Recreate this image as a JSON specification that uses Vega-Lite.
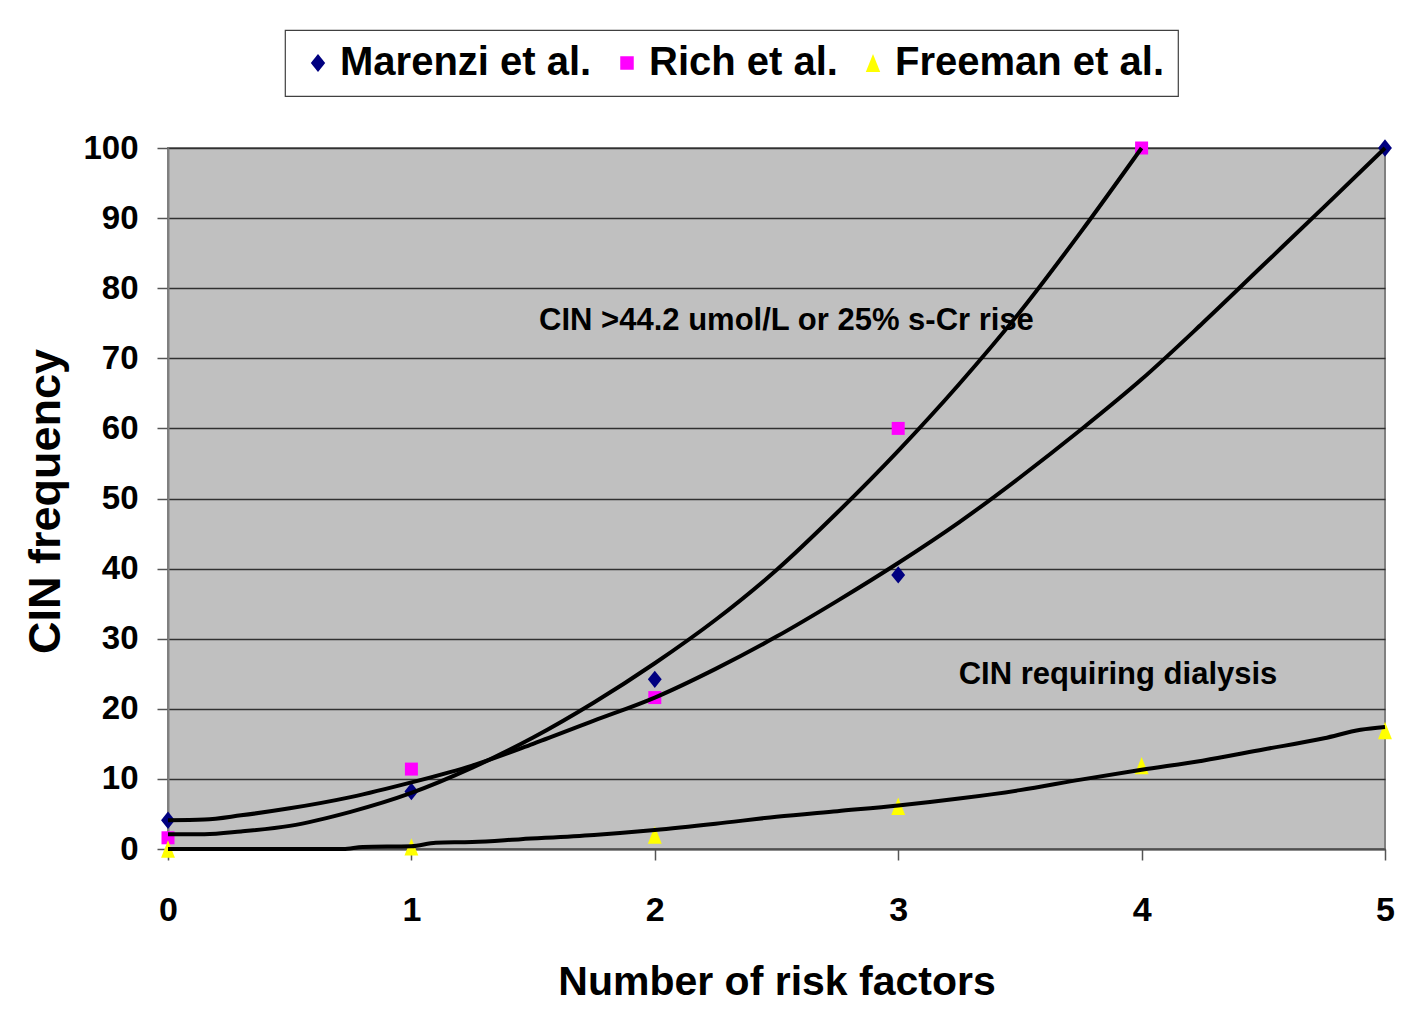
{
  "$schema": "https://vega.github.io/schema/vega-lite/v6.json",
  "width": 1217,
  "height": 701,
  "autosize": {"type": "none"},
  "padding": {"left": 168, "top": 148, "right": 24, "bottom": 168},
  "background": "white",
  "config": {
    "font": "Liberation Sans, Arial, sans-serif",
    "view": {"fill": "#C0C0C0", "stroke": "#808080", "strokeWidth": 2},
    "legend": {
      "fillColor": "white",
      "strokeColor": "#404040",
      "strokeWidth": 1.2,
      "padding": 13,
      "labelFontSize": 40,
      "labelFontWeight": "bold",
      "labelColor": "black",
      "labelOffset": 2,
      "columnPadding": 15,
      "symbolSize": 324,
      "symbolStrokeWidth": 0,
      "labelLimit": 400
    }
  },
  "datasets": {
    "points": [
      {"series": "Marenzi et al.", "risk": 0, "cin": 4.1},
      {"series": "Marenzi et al.", "risk": 1, "cin": 8.2},
      {"series": "Marenzi et al.", "risk": 2, "cin": 24.2},
      {"series": "Marenzi et al.", "risk": 3, "cin": 39.1},
      {"series": "Marenzi et al.", "risk": 5, "cin": 100},
      {"series": "Rich et al.", "risk": 0, "cin": 1.6},
      {"series": "Rich et al.", "risk": 1, "cin": 11.4},
      {"series": "Rich et al.", "risk": 2, "cin": 21.6},
      {"series": "Rich et al.", "risk": 3, "cin": 60},
      {"series": "Rich et al.", "risk": 4, "cin": 100},
      {"series": "Freeman et al.", "risk": 0, "cin": 0},
      {"series": "Freeman et al.", "risk": 1, "cin": 0.3},
      {"series": "Freeman et al.", "risk": 2, "cin": 2.0},
      {"series": "Freeman et al.", "risk": 3, "cin": 6.1},
      {"series": "Freeman et al.", "risk": 4, "cin": 11.9},
      {"series": "Freeman et al.", "risk": 5, "cin": 16.9}
    ],
    "trends": [
      {"series": "Marenzi", "risk": 0, "cin": 4.1},
      {"series": "Marenzi", "risk": 0.15, "cin": 4.2},
      {"series": "Marenzi", "risk": 0.3, "cin": 4.8},
      {"series": "Marenzi", "risk": 0.5, "cin": 5.8},
      {"series": "Marenzi", "risk": 0.75, "cin": 7.4},
      {"series": "Marenzi", "risk": 1.0, "cin": 9.5},
      {"series": "Marenzi", "risk": 1.25, "cin": 11.9},
      {"series": "Marenzi", "risk": 1.5, "cin": 15.0},
      {"series": "Marenzi", "risk": 1.75, "cin": 18.3},
      {"series": "Marenzi", "risk": 2.0, "cin": 21.6},
      {"series": "Marenzi", "risk": 2.25, "cin": 25.7},
      {"series": "Marenzi", "risk": 2.5, "cin": 30.3},
      {"series": "Marenzi", "risk": 2.75, "cin": 35.4},
      {"series": "Marenzi", "risk": 3.0, "cin": 40.8},
      {"series": "Marenzi", "risk": 3.25, "cin": 46.6},
      {"series": "Marenzi", "risk": 3.5, "cin": 53.0},
      {"series": "Marenzi", "risk": 3.75, "cin": 59.8},
      {"series": "Marenzi", "risk": 4.0, "cin": 67.0},
      {"series": "Marenzi", "risk": 4.25, "cin": 75.0},
      {"series": "Marenzi", "risk": 4.5, "cin": 83.3},
      {"series": "Marenzi", "risk": 4.75, "cin": 91.6},
      {"series": "Marenzi", "risk": 5.0, "cin": 100},
      {"series": "Rich", "risk": 0, "cin": 2.1},
      {"series": "Rich", "risk": 0.15, "cin": 2.1},
      {"series": "Rich", "risk": 0.3, "cin": 2.5},
      {"series": "Rich", "risk": 0.5, "cin": 3.3},
      {"series": "Rich", "risk": 0.75, "cin": 5.3},
      {"series": "Rich", "risk": 1.0, "cin": 8.0},
      {"series": "Rich", "risk": 1.25, "cin": 11.6},
      {"series": "Rich", "risk": 1.5, "cin": 15.9},
      {"series": "Rich", "risk": 1.75, "cin": 20.9},
      {"series": "Rich", "risk": 2.0, "cin": 26.5},
      {"series": "Rich", "risk": 2.25, "cin": 32.7},
      {"series": "Rich", "risk": 2.5, "cin": 39.8},
      {"series": "Rich", "risk": 2.75, "cin": 48.0},
      {"series": "Rich", "risk": 3.0, "cin": 56.8},
      {"series": "Rich", "risk": 3.25, "cin": 66.3},
      {"series": "Rich", "risk": 3.5, "cin": 76.6},
      {"series": "Rich", "risk": 3.75, "cin": 88.0},
      {"series": "Rich", "risk": 4.0, "cin": 100},
      {"series": "Freeman", "risk": 0, "cin": 0},
      {"series": "Freeman", "risk": 0.5, "cin": 0},
      {"series": "Freeman", "risk": 0.72, "cin": 0},
      {"series": "Freeman", "risk": 0.8, "cin": 0.3},
      {"series": "Freeman", "risk": 1.0, "cin": 0.4},
      {"series": "Freeman", "risk": 1.1, "cin": 0.9},
      {"series": "Freeman", "risk": 1.25, "cin": 1.0},
      {"series": "Freeman", "risk": 1.45, "cin": 1.4},
      {"series": "Freeman", "risk": 1.75, "cin": 2.0},
      {"series": "Freeman", "risk": 2.0, "cin": 2.7},
      {"series": "Freeman", "risk": 2.25, "cin": 3.6},
      {"series": "Freeman", "risk": 2.5, "cin": 4.6},
      {"series": "Freeman", "risk": 2.75, "cin": 5.4},
      {"series": "Freeman", "risk": 3.0, "cin": 6.2},
      {"series": "Freeman", "risk": 3.25, "cin": 7.2},
      {"series": "Freeman", "risk": 3.5, "cin": 8.4},
      {"series": "Freeman", "risk": 3.75, "cin": 9.9},
      {"series": "Freeman", "risk": 4.0, "cin": 11.3},
      {"series": "Freeman", "risk": 4.25, "cin": 12.6},
      {"series": "Freeman", "risk": 4.5, "cin": 14.2},
      {"series": "Freeman", "risk": 4.75, "cin": 15.8},
      {"series": "Freeman", "risk": 4.9, "cin": 17.0},
      {"series": "Freeman", "risk": 5.0, "cin": 17.4}
    ]
  },
  "layer": [
    {
      "data": {"name": "points"},
      "mark": {"type": "point", "filled": true, "opacity": 1, "size": 300, "strokeWidth": 0},
      "encoding": {
        "x": {
          "field": "risk",
          "type": "quantitative",
          "scale": {"domain": [0, 5], "nice": false, "zero": false},
          "axis": {
            "values": [0, 1, 2, 3, 4, 5],
            "format": "d",
            "grid": false,
            "labelFlush": false,
            "tickSize": 11,
            "tickColor": "#555555",
            "tickWidth": 1.5,
            "domainColor": "#505050",
            "domainWidth": 2,
            "labelFontSize": 34,
            "labelFontWeight": "bold",
            "labelColor": "black",
            "labelBaseline": "alphabetic",
            "labelPadding": 60,
            "title": "Number of risk factors",
            "titleFontSize": 41,
            "titleFontWeight": "bold",
            "titleColor": "black",
            "titleBaseline": "alphabetic",
            "titleY": 145
          }
        },
        "y": {
          "field": "cin",
          "type": "quantitative",
          "scale": {"domain": [0, 100], "nice": false},
          "axis": {
            "values": [0, 10, 20, 30, 40, 50, 60, 70, 80, 90, 100],
            "grid": true,
            "gridColor": "#303030",
            "gridWidth": 1.3,
            "tickSize": 11,
            "tickColor": "#555555",
            "tickWidth": 1.5,
            "domainColor": "#808080",
            "domainWidth": 2,
            "labelFontSize": 33,
            "labelFontWeight": "bold",
            "labelColor": "black",
            "labelPadding": 19,
            "title": "CIN frequency",
            "titleFontSize": 45,
            "titleFontWeight": "bold",
            "titleColor": "black",
            "titleAngle": 270,
            "titleBaseline": "alphabetic",
            "titleAlign": "center",
            "titleX": -109,
            "titleY": 353
          }
        },
        "color": {
          "field": "series",
          "type": "nominal",
          "scale": {
            "domain": ["Marenzi et al.", "Rich et al.", "Freeman et al."],
            "range": ["#000080", "#FF00FF", "#FFFF00"]
          },
          "legend": {"title": null, "orient": "none", "direction": "horizontal", "legendX": 117, "legendY": -118}
        },
        "shape": {
          "field": "series",
          "type": "nominal",
          "scale": {
            "domain": ["Marenzi et al.", "Rich et al.", "Freeman et al."],
            "range": ["M0,-1L0.8,0L0,1L-0.8,0Z", "M-0.75,-0.75L0.75,-0.75L0.75,0.75L-0.75,0.75Z", "M0,-1L0.8,1L-0.8,1Z"]
          },
          "legend": {"title": null, "orient": "none", "direction": "horizontal", "legendX": 117, "legendY": -118}
        }
      }
    },
    {
      "data": {"name": "trends"},
      "mark": {"type": "line", "color": "black", "strokeWidth": 4, "interpolate": "monotone"},
      "encoding": {
        "x": {"field": "risk", "type": "quantitative"},
        "y": {"field": "cin", "type": "quantitative"},
        "detail": {"field": "series", "type": "nominal"}
      }
    },
    {
      "data": {"values": [{}]},
      "mark": {"type": "text", "fontSize": 31, "fontWeight": "bold", "color": "black", "align": "center", "baseline": "alphabetic"},
      "encoding": {
        "x": {"datum": 2.541},
        "y": {"datum": 74.0},
        "text": {"value": "CIN >44.2 umol/L or 25% s-Cr rise"}
      }
    },
    {
      "data": {"values": [{}]},
      "mark": {"type": "text", "fontSize": 31, "fontWeight": "bold", "color": "black", "align": "center", "baseline": "alphabetic"},
      "encoding": {
        "x": {"datum": 3.903},
        "y": {"datum": 23.5},
        "text": {"value": "CIN requiring dialysis"}
      }
    }
  ]
}
